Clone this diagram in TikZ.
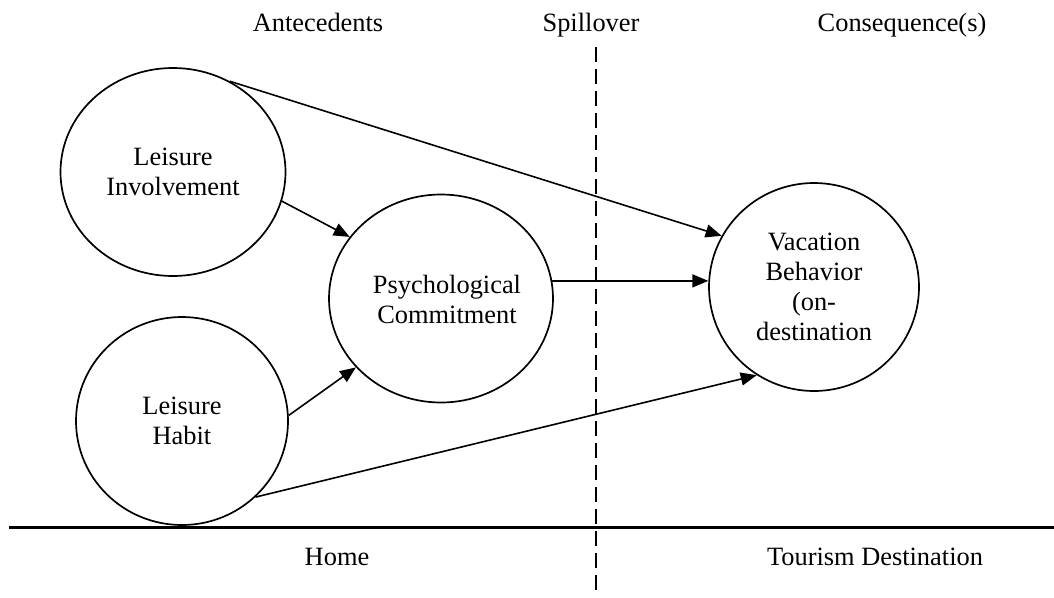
\documentclass[tikz,border=0pt]{standalone}
\usepackage{fontspec}
\setmainfont{Liberation Serif}
\usetikzlibrary{shapes.geometric,arrows.meta}
\begin{document}
\begin{tikzpicture}[x=1pt,y=-1pt,
  every node/.style={font=\fontsize{26.4}{30}\selectfont},
  bubble/.style={draw, ellipse, line width=1.7pt, inner sep=0pt, align=center},
  conn/.style={line width=1.6pt, -{Triangle[length=16pt,width=13pt]}},
  lbl/.style={anchor=base},
  divider/.style={line width=1.6pt, dash pattern=on 15pt off 7pt},
  ground/.style={line width=3pt}]
\useasboundingbox (0,0) rectangle (1054,597);
% top labels
\node[lbl] (ante) at (318,31.5) {Antecedents};
\node[lbl] (spill) at (591,31.5) {Spillover};
\node[lbl] (cons) at (902,31.5) {Consequence(s)};
% bottom labels
\node[lbl] (home) at (337,565.5) {Home};
\node[lbl] (dest) at (875,565.5) {Tourism Destination};
% divider lines
\coordinate (dtop) at (596,47);
\coordinate (dbot) at (596,591);
\draw[divider] (dtop) -- (dbot);
\coordinate (gl) at (9,527);
\coordinate (gr) at (1054,527);
\draw[ground] (gl) -- (gr);
% bubbles
\node[bubble, minimum width=225pt, minimum height=208pt] (li) at (173,172) {Leisure\\Involvement};
\node[bubble, minimum width=212pt, minimum height=208pt] (lh) at (182,421) {Leisure\\Habit};
\node[bubble, minimum width=224pt, minimum height=208pt] (pc) at (441,298.5) {};
\node[align=center] (pct) at (447,299) {Psychological\\Commitment};
\node[bubble, minimum width=210pt, minimum height=208pt] (vb) at (814,287) {Vacation\\Behavior\\(on-\\destination};
% connectors
\draw[conn] (li.58) -- (vb.151);
\draw[conn] (li.-15) -- (pc.146);
\draw[conn] (pc.9) -- (pc.9 -| vb.177);
\draw[conn] (lh.3) -- (pc.219);
\draw[conn] (lh.-46) -- (vb.237);
\end{tikzpicture}
\end{document}
